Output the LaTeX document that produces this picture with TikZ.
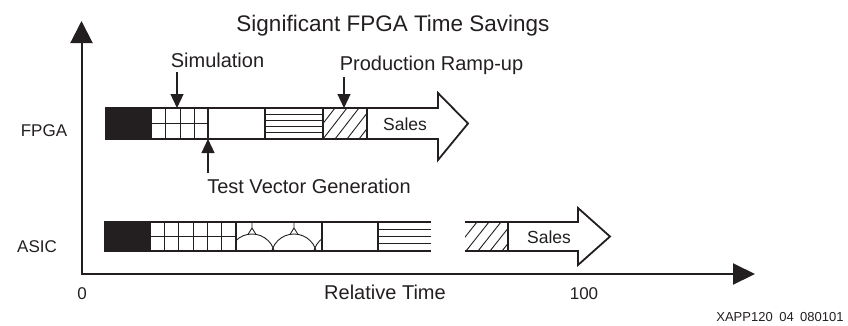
\documentclass[tikz,border=0pt]{standalone}
\usepackage{fontspec}
\setmainfont{Liberation Sans}
\usetikzlibrary{arrows.meta}
\definecolor{ink}{RGB}{35,31,32}
\begin{document}
\begin{tikzpicture}[x=1pt,y=-1pt, color=ink,
 seg/.style={draw=ink, line width=1.8pt, inner sep=0pt, outer sep=0pt, anchor=north west},
 fseg/.style={seg, minimum height=31pt},
 aseg/.style={seg, minimum height=29pt},
 innerline/.style={draw=ink, line width=0.9pt},
 txt/.style={anchor=base, inner sep=0pt, text=ink, font=\fontsize{20}{24}\selectfont},
 smalltxt/.style={anchor=base, inner sep=0pt, text=ink, font=\fontsize{17}{20}\selectfont},
 salestxt/.style={anchor=base, inner sep=0pt, text=ink, font=\fontsize{17.5}{20}\selectfont},
 pointer/.style={draw=ink, line width=1.2pt, -{Triangle[length=14pt,width=13pt]}},
 axisline/.style={draw=ink, line width=2pt, {Triangle[length=22pt,width=22pt]}-{Triangle[length=22pt,width=21pt]}},
 bigarrow/.style={draw=ink, line width=1.8pt, fill=white, line join=miter},
]
\useasboundingbox (0,0) rectangle (848,325);

% axes
\coordinate (ytop) at (81.5,21);
\coordinate (origin) at (81.5,274);
\coordinate (xend) at (755,274);
\draw[axisline] (ytop) -- (origin) -- (xend);

% ---------- FPGA row ----------
\node[fseg, fill=ink, minimum width=45pt] (fblack) at (106,108) {};
\node[fseg, minimum width=57pt] (fgrid) at (151,108) {};
\node[fseg, minimum width=57pt] (fblank) at (208,108) {};
\node[fseg, minimum width=58pt] (flines) at (265,108) {};
\node[fseg, minimum width=44pt] (fhatch) at (323,108) {};
\draw[bigarrow] (367,108) -- (438,108) -- (438,93) -- (468,123.5) -- (438,160) -- (438,139) -- (367,139) -- cycle;
\node[salestxt] (fsales) at (405,130) {Sales};

\draw[innerline] (165,108)--(165,139) (180,108)--(180,139) (194,108)--(194,139) (151,123.5)--(208,123.5);
\foreach \yy in {114.2,120.4,126.6,132.8} \draw[innerline] (265,\yy) -- (323,\yy);
\begin{scope}
 \clip (323,108) rectangle (367,139);
 \foreach \k in {0,...,6} \draw[innerline] ({299+12*\k},139) -- ({323+12*\k},108);
\end{scope}

% ---------- ASIC row ----------
\node[aseg, fill=ink, minimum width=45pt] (ablack) at (105,222) {};
\node[aseg, minimum width=86pt] (agrid) at (150,222) {};
\node[aseg, minimum width=86pt] (acells) at (236,222) {};
\node[aseg, minimum width=56pt] (ablank) at (322,222) {};
\node[aseg, draw=none, minimum width=53pt] (alines) at (378,222) {};
\draw[line width=1.8pt] (alines.north east) -- (alines.north west) -- (alines.south west) -- (alines.south east);
\node[aseg, draw=none, minimum width=43pt] (ahatch) at (465,222) {};
\draw[bigarrow] (508,222) -- (578,222) -- (578,208) -- (610,236.5) -- (578,265) -- (578,251) -- (508,251) -- cycle;
\draw[line width=1.8pt] (ahatch.north west) -- (ahatch.north east) -- (ahatch.south east) -- (ahatch.south west);
\node[salestxt] (asales) at (549,243) {Sales};

\foreach \xx in {164.3,178.7,193,207.3,221.7} \draw[innerline] (\xx,222) -- (\xx,251);
\draw[innerline] (150,236.5) -- (236,236.5);
\foreach \yy in {229.25,236.5,243.75} \draw[innerline] (378,\yy) -- (431,\yy);
\begin{scope}
 \clip (465,222) rectangle (508,251);
 \foreach \k in {0,...,6} \draw[innerline] ({442+12*\k},251) -- ({465+12*\k},222);
\end{scope}
\begin{scope}
 \clip (236,222) rectangle (322,251);
 \foreach \cx in {252,294,336} \draw[innerline] (\cx,257) circle[radius=23];
 \foreach \cx in {252,294} \draw[innerline] (\cx,222) -- (\cx,228) (\cx-4,234.4) -- (\cx,228) -- (\cx+4,234.4);
\end{scope}

% ---------- labels ----------
\node[txt, font=\fontsize{22.5}{27}\selectfont] (title) at (393,31) {Significant FPGA Time Savings};
\node[txt] (simlbl) at (217.5,67) {Simulation};
\node[txt] (prodlbl) at (431.5,70) {Production Ramp-up};
\node[txt] (tvlbl) at (309,193) {Test Vector Generation};
\node[smalltxt] (fpgalbl) at (44,136) {FPGA};
\node[smalltxt] (asiclbl) at (37,252) {ASIC};
\node[smalltxt] (zero) at (82,299) {0};
\node[txt] (xlbl) at (385,299) {Relative Time};
\node[smalltxt] (hundred) at (584,299) {100};
\node[anchor=base, inner sep=0pt, text=ink, font=\fontsize{13}{15}\selectfont] (code) at (780,321.5) {XAPP120\hspace{0.5em}04\hspace{0.5em}080101};

\coordinate (simtail) at (177,72);
\draw[pointer] (simtail) -- (simtail |- fgrid.north);
\coordinate (prodtail) at (344,77);
\draw[pointer] (prodtail) -- (prodtail |- fhatch.north);
\coordinate (tvtail) at (208,173);
\draw[pointer] (tvtail) -- (fblank.south west);
\end{tikzpicture}
\end{document}
